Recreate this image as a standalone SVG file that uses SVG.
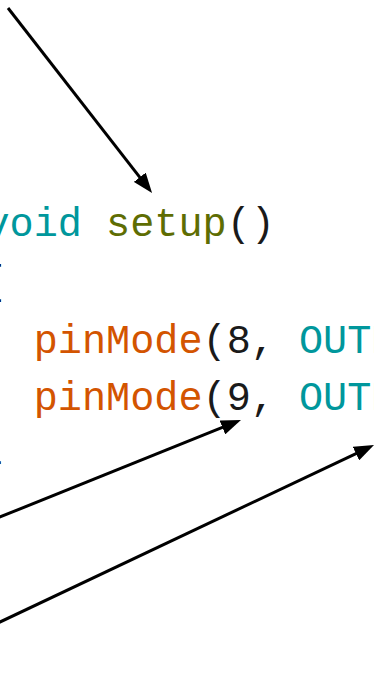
<svg xmlns="http://www.w3.org/2000/svg" width="374" height="688" viewBox="0 0 374 688">
  <style>
    .code { font-family: "Liberation Mono", "Courier New", monospace; font-size: 40.2px; fill: #000; }
    .kw { fill: #00979C; }
    .fn { fill: #5E6D03; }
    .call { fill: #D35400; }
    .pun { fill: #1a1a1a; }
    .conn { stroke: #000; stroke-width: 3; fill: none; marker-end: url(#head); }
  </style>
  <defs>
    <marker id="head" markerUnits="userSpaceOnUse" viewBox="0 0 20 15" refX="10" refY="7.5" markerWidth="20" markerHeight="15" orient="auto">
      <path d="M0,0 L20,7.5 L0,15 z" fill="#000"/>
    </marker>
  </defs>
  <rect width="374" height="688" fill="#fff"/>
  <g id="code">
    <g id="line-setup"><text class="code" x="-14.5" y="236"><tspan class="kw">void</tspan> <tspan class="fn">setup</tspan><tspan class="pun">()</tspan></text></g>
    <g id="line-open"><text class="code" x="-20" y="294">{</text></g>
    <g id="line-pin8"><text class="code" x="33.7" y="353"><tspan class="call">pinMode</tspan><tspan class="pun">(8,</tspan> <tspan class="kw">OUTPUT</tspan><tspan class="pun">);</tspan></text></g>
    <g id="line-pin9"><text class="code" x="33.7" y="410"><tspan class="call">pinMode</tspan><tspan class="pun">(9,</tspan> <tspan class="kw">OUTPUT</tspan><tspan class="pun">);</tspan></text></g>
    <g id="line-close"><text class="code" x="-19" y="474">}</text></g>
  </g>
  <g id="connectors">
    <line class="conn" x1="8" y1="8" x2="145.9" y2="185.1"/>
    <line class="conn" x1="-10" y1="521" x2="231.7" y2="423.7"/>
    <line class="conn" x1="-10" y1="626.7" x2="365" y2="449.3"/>
  </g>
</svg>
